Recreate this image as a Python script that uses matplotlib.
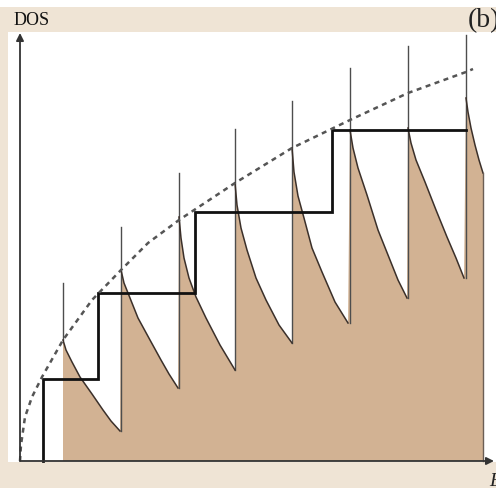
#!/usr/bin/env python3
"""
Density of states sketch: 3D (dashed), 2D (steps), 1D (shaded sawtooth).
"""

import matplotlib.pyplot as plt
from matplotlib.patches import Rectangle

# 3D DOS (dashed curve), energy in arbitrary units
e_3d = [0.0, 0.1, 0.5, 1.2, 2.2, 4.3, 7.2, 10.1, 12.8, 15.9, 21.5, 27.2, 33.0, 38.8, 44.6, 45.3]
dos_3d = [0.0, 1.6, 4.4, 6.4, 8.4, 12.1, 16.1, 19.1, 21.8, 24.1, 27.8, 31.3, 34.1, 36.8, 38.9, 39.2]

# 2D DOS (staircase): subband edges and plateau heights
e_2d_edges = [2.3, 7.8, 17.5, 31.2]
e_2d_end = 44.6
dos_2d_levels = [8.2, 16.8, 24.9, 33.1]

# 1D DOS: one decaying branch per subband
e_1d = [
    [4.3, 4.6, 5.2, 6.0, 7.2, 8.3, 9.1, 10.0],
    [10.1, 10.4, 11.0, 11.8, 13.0, 14.1, 14.9, 15.8],
    [15.9, 16.1, 16.4, 16.9, 17.6, 18.6, 20.0, 21.5],
    [21.5, 21.7, 22.1, 22.7, 23.6, 24.6, 25.9, 27.2],
    [27.2, 27.4, 27.8, 28.4, 29.2, 30.2, 31.5, 32.8],
    [33.0, 33.3, 33.8, 34.7, 35.8, 37.0, 37.8, 38.7],
    [38.8, 39.1, 39.6, 40.5, 41.6, 42.7, 43.6, 44.4],
    [44.6, 44.8, 45.1, 45.5, 45.9, 46.3],
]
dos_1d = [
    [12.1, 11.1, 9.9, 8.4, 6.7, 5.1, 4.0, 3.0],
    [19.1, 17.8, 16.3, 14.3, 12.1, 10.1, 8.7, 7.3],
    [24.4, 22.3, 20.3, 18.3, 16.4, 14.3, 11.6, 9.1],
    [27.8, 25.6, 23.3, 21.1, 18.3, 16.1, 13.6, 11.8],
    [31.3, 28.9, 26.5, 24.3, 21.3, 18.9, 15.9, 13.8],
    [33.1, 31.3, 29.3, 26.6, 23.1, 20.1, 18.1, 16.3],
    [33.3, 31.8, 30.1, 27.9, 25.1, 22.4, 20.3, 18.3],
    [36.3, 34.9, 33.3, 31.6, 30.1, 28.8],
]
# van Hove spikes (clipped height)
spike_tops = [17.8, 23.4, 28.8, 33.2, 36.0, 39.3, 41.5, 42.6]

BEIGE = '#efe4d5'
TAN = '#d2b293'

fig = plt.figure(figsize=(4.96, 4.88), dpi=100)
fig.patch.set_facecolor('white')

ax = fig.add_axes([0, 0, 1, 1])
ax.set_xlim(-2.0, 47.6)
ax.set_ylim(-2.7, 46.1)
ax.axis('off')
ax.patch.set_alpha(0)

# beige frame with white drawing area
ax.add_patch(Rectangle((0, 0), 1, 0.9857, transform=ax.transAxes,
                       facecolor=BEIGE, edgecolor='none', zorder=0))
ax.add_patch(Rectangle((0.0161, 0.0533), 1, 0.8811, transform=ax.transAxes,
                       facecolor='white', edgecolor='none', zorder=0.5))

# 1D shaded sawtooth
e_fill = [e_1d[0][0]] + [e for seg in e_1d for e in seg] + [e_1d[-1][-1]]
d_fill = [0.0] + [d for seg in dos_1d for d in seg] + [0.0]
ax.fill(e_fill, d_fill, color=TAN, lw=0, zorder=1)
for seg_e, seg_d in zip(e_1d, dos_1d):
    ax.plot(seg_e, seg_d, color='#3b302a', lw=1.1, zorder=3,
            solid_joinstyle='round')
ax.plot([e_1d[-1][-1]] * 2, [dos_1d[-1][-1], 0], color='#6b5e55', lw=1.0, zorder=3)

# spikes at each subband edge
for i, top in enumerate(spike_tops):
    base = dos_1d[i][0] if i == 0 else dos_1d[i - 1][-1]
    ax.plot([e_1d[i][0]] * 2, [base, top], color='#4d4d4d', lw=1.0, zorder=2)

# 2D staircase
xs, ys = [e_2d_edges[0]], [0.0]
for k, lev in enumerate(dos_2d_levels):
    xs.append(e_2d_edges[k])
    ys.append(lev)
    nxt = e_2d_edges[k + 1] if k + 1 < len(e_2d_edges) else e_2d_end
    xs.append(nxt)
    ys.append(lev)
ax.plot(xs, ys, color='#111111', lw=2.0, zorder=4, solid_joinstyle='miter')

# 3D dashed curve
ax.plot(e_3d, dos_3d, color='#555555', lw=1.8, linestyle=(0, (2.0, 1.8)), zorder=5)

# axes with arrows
arrow = dict(arrowstyle='-|>', lw=1.3, color='#333333', mutation_scale=11,
             shrinkA=0, shrinkB=0)
ax.annotate('', xy=(0, 42.8), xytext=(0, 0), arrowprops=arrow, zorder=6)
ax.annotate('', xy=(47.4, 0), xytext=(0, 0), arrowprops=arrow, zorder=6)

fig.text(14 / 496, 1 - 25 / 488, 'DOS', fontsize=13, family='Liberation Serif',
         color='#111111', ha='left', va='baseline')
fig.text(468 / 496, 1 - 27 / 488, '(b)', fontsize=20, family='Liberation Serif',
         color='#222222', ha='left', va='baseline')
fig.text(489 / 496, 1 - 486 / 488, 'E', fontsize=14, family='Liberation Serif',
         style='italic', color='#222222', ha='left', va='baseline')

fig.savefig('out.png', dpi=100, facecolor='white')
